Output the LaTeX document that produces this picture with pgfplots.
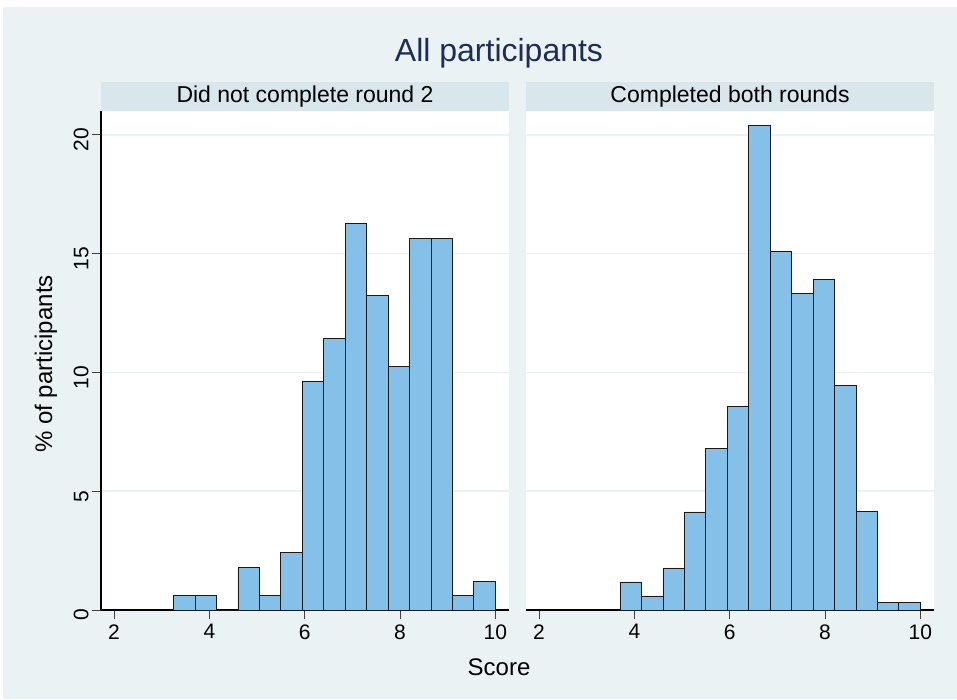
\documentclass[border=0pt]{standalone}
\usepackage{fontspec}
\setmainfont{Liberation Sans}
\usepackage{pgfplots}
\usepackage{pgfplotstable}
\pgfplotsset{compat=1.18}
\definecolor{bg}{RGB}{234,242,243}
\definecolor{strip}{RGB}{217,230,235}
\definecolor{barfill}{RGB}{133,192,233}
\definecolor{ttl}{RGB}{28,45,86}

\pgfplotstableread{
edge pct
3.25 0.60
3.70 0.60
4.15 0
4.60 1.81
5.05 0.60
5.50 2.41
5.95 9.64
6.40 11.45
6.85 16.27
7.30 13.25
7.75 10.24
8.20 15.66
8.65 15.66
9.10 0.60
9.55 1.20
10.00 1.20
}\leftdata

\pgfplotstableread{
edge pct
3.70 1.18
4.15 0.59
4.60 1.77
5.05 4.13
5.50 6.80
5.95 8.58
6.40 20.41
6.85 15.09
7.30 13.31
7.75 13.91
8.20 9.47
8.65 4.14
9.10 0.30
9.55 0.30
10.00 0.30
}\rightdata

\pgfplotsset{panel/.style={
  scale only axis, width=408pt, height=499pt,
  xmin=1.727, xmax=10.287, ymin=0, ymax=21.01,
  xtick={2,4,6,8,10}, ytick={0,5,10,15,20},
  axis x line*=bottom, axis y line*=left,
  tick align=outside, major tick length=9pt,
  ymajorgrids, grid style={bg, line width=1.5pt},
  axis background/.style={fill=white},
  axis line style={black, line width=1.1pt},
  tick style={black!75, line width=1pt},
  ticklabel style={font=\fontsize{21}{21}\selectfont},
  /pgf/number format/assume math mode=true,
  yticklabel style={rotate=90, anchor=south, xshift=-5pt},
  xticklabel style={yshift=-2pt},
  anchor=south west,
}}

\begin{document}
\begin{tikzpicture}[x=1pt,y=1pt]
\fill[white] (0,0) rectangle (957,699);
\fill[bg] (3,0) rectangle (957,692);
\fill[strip] (101,588) rectangle (509,617);
\fill[strip] (526,588) rectangle (934,617);
\node[anchor=base, font=\fontsize{23}{23}\selectfont] at (305,596) {Did not complete round 2};
\node[anchor=base, font=\fontsize{23}{23}\selectfont] at (730,596) {Completed both rounds};
\node[anchor=base, text=ttl, font=\fontsize{32}{32}\selectfont] at (499,637) {All participants};
\node[anchor=base, font=\fontsize{24}{24}\selectfont] at (499,24) {Score};
\node[anchor=base, rotate=90, font=\fontsize{24}{24}\selectfont] at (52,335) {\% of participants};

\begin{axis}[panel, at={(101pt,89pt)}]
\addplot[ybar interval, fill=barfill, draw=black!90, line width=0.8pt] table[x=edge, y=pct] {\leftdata};
\end{axis}

\begin{axis}[panel, at={(526pt,89pt)}, y axis line style={draw=none}, ytick style={draw=none}, yticklabels={}]
\addplot[ybar interval, fill=barfill, draw=black!90, line width=0.8pt] table[x=edge, y=pct] {\rightdata};
\end{axis}
\end{tikzpicture}
\end{document}
